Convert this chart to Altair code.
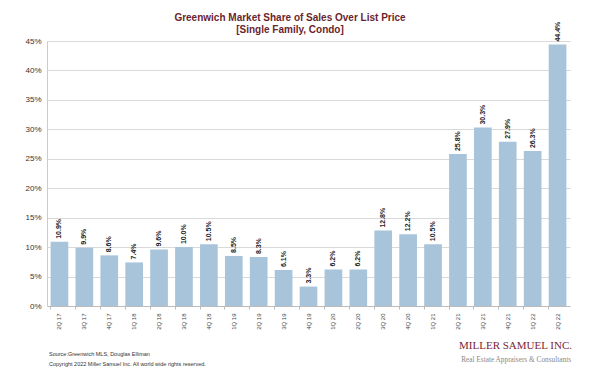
import altair as alt
import pandas as pd

quarters = ["2Q 17", "3Q 17", "4Q 17", "1Q 18", "2Q 18", "3Q 18", "4Q 18",
            "1Q 19", "2Q 19", "3Q 19", "4Q 19", "1Q 20", "2Q 20", "3Q 20",
            "4Q 20", "1Q 21", "2Q 21", "3Q 21", "4Q 21", "1Q 22", "2Q 22"]
share = [10.9, 9.9, 8.6, 7.4, 9.6, 10.0, 10.5, 8.5, 8.3, 6.1, 3.3, 6.2, 6.2,
         12.8, 12.2, 10.5, 25.8, 30.3, 27.9, 26.3, 44.4]
y_ticks = [0, 5, 10, 15, 20, 25, 30, 35, 40, 45]

title_lines = ["Greenwich Market Share of Sales Over List Price", "[Single Family, Condo]"]
source_lines = ["Source:Greenwich MLS, Douglas Elliman",
                "Copyright 2022 Miller Samuel Inc.  All world wide rights reserved."]
logo_main = "MILLER SAMUEL INC."
logo_sub = "Real Estate Appraisers & Consultants"

df = pd.DataFrame({"q": quarters, "v": share})
df["label"] = [f"{v:.1f}%" for v in share]

W, H = 523, 265

x = alt.X("q:N", sort=quarters, title=None,
          scale=alt.Scale(paddingInner=0.29, paddingOuter=0.145),
          axis=alt.Axis(labelAngle=270, labelFontSize=6, labelColor="#444444",
                        labelFont="Liberation Sans", labelPadding=4,
                        domainColor="#bbbbbb", tickColor="#bbbbbb", tickSize=3,
                        bandPosition=0, labelBaseline="middle", labelAlign="right"))
y = alt.Y("v:Q", title=None, scale=alt.Scale(domain=[0, 45], nice=False),
          axis=alt.Axis(values=y_ticks, labelExpr="datum.value + '%'",
                        labelFontSize=8, labelColor="#333333", labelFont="Liberation Sans",
                        labelPadding=6, ticks=False, domainColor="#cccccc",
                        gridColor="#d9d9d9", gridWidth=1))

base = alt.Chart(df)
bars = base.mark_bar(color="#a8c4da").encode(x=x, y=y)
labels = base.mark_text(angle=270, align="left", baseline="middle", dx=3,
                        font="Liberation Sans", fontSize=7, fontWeight="bold",
                        color="#222222").encode(x=x, y=y, text="label")


def text_layer(t, xv, yv, **kw):
    return alt.Chart(pd.DataFrame({"t": [t]})).mark_text(**kw).encode(
        x=alt.value(xv), y=alt.value(yv), text="t")


title1 = text_layer(title_lines[0], 243, -23, align="center", baseline="middle",
                    font="Liberation Sans", fontSize=10, fontWeight="bold", color="#6b1f2e")
title2 = text_layer(title_lines[1], 243, -11.5, align="center", baseline="middle",
                    font="Liberation Sans", fontSize=10, fontWeight="bold", color="#6b1f2e")
src1 = text_layer(source_lines[0], 2, 313, align="left", baseline="middle",
                  font="Liberation Sans", fontSize=5.5, color="#333333")
src2 = text_layer(source_lines[1], 2, 323, align="left", baseline="middle",
                  font="Liberation Sans", fontSize=5.5, color="#333333")
logo1 = text_layer(logo_main, 525, 308, align="right", baseline="alphabetic",
                   font="Liberation Serif", fontSize=11, color="#7a2636")
logo2 = text_layer(logo_sub, 524, 321, align="right", baseline="alphabetic",
                   font="Liberation Serif", fontSize=7.3, color="#888888")

chart = alt.layer(bars, labels, title1, title2, src1, src2, logo1, logo2).properties(
    width=W, height=H,
    padding={"left": 39, "top": 33, "right": 22, "bottom": 71},
    autosize=alt.AutoSizeParams(type="none"),
    background="white",
).configure_view(stroke=None)

chart.save("out.html", embed_options={"renderer": "svg", "actions": False})
